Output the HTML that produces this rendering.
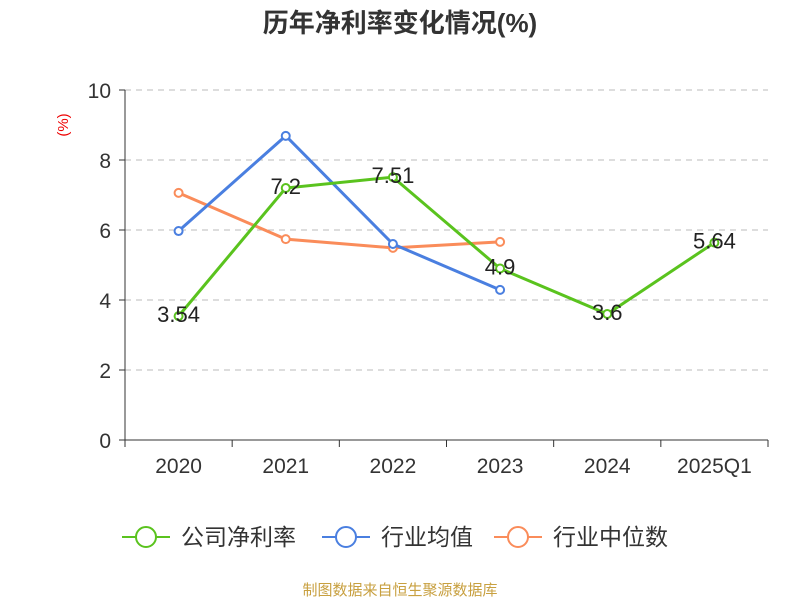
<!DOCTYPE html>
<html><head><meta charset="utf-8"><style>
body{margin:0;background:#fff;font-family:"Liberation Sans","Noto Sans CJK SC",sans-serif;}
</style></head><body>
<svg width="800" height="600" xmlns="http://www.w3.org/2000/svg" font-family="Liberation Sans, Noto Sans CJK SC, sans-serif">
<text x="400" y="32" text-anchor="middle" font-size="26" font-weight="bold" fill="#333">历年净利率变化情况(%)</text>
<text transform="translate(68,125) rotate(-90)" text-anchor="middle" font-size="15" fill="#e00">(%)</text>
<g id="grid"></g><g id="axes"></g><g id="series"></g>
<g id="legend"></g>
<text x="400" y="595" text-anchor="middle" font-size="15" fill="#c8a040">制图数据来自恒生聚源数据库</text>
</svg>
<script>
const categories=["2020","2021","2022","2023","2024","2025Q1"];
const yTicks=[0,2,4,6,8,10];
const companyNet=[3.54,7.2,7.51,4.9,3.6,5.64];
const industryAvg=[5.97,8.69,5.6,4.29];
const industryMedian=[7.06,5.74,5.49,5.66];
const labels=["3.54","7.2","7.51","4.9","3.6","5.64"];
const NS="http://www.w3.org/2000/svg";
const x0=125,x1=768,y0=440,yTop=90;
const bw=(x1-x0)/categories.length;
const xs=i=>x0+bw*(i+0.5);
const ys=v=>y0-(v/10)*(y0-yTop);
function mk(tag,attrs,parent){const e=document.createElementNS(NS,tag);for(const k in attrs)e.setAttribute(k,attrs[k]);parent.appendChild(e);return e;}
const grid=document.getElementById('grid'),axes=document.getElementById('axes'),ser=document.getElementById('series'),leg=document.getElementById('legend');
yTicks.forEach(t=>{
 if(t>0){const l=mk('line',{x1:x0,x2:x1,y1:ys(t),y2:ys(t),stroke:'#bbb','stroke-dasharray':'6,5'},grid);
 
 }
 const tk=mk('line',{x1:x0-6,x2:x0,y1:ys(t),y2:ys(t),stroke:'#333'},axes);
 
 
 const tx=mk('text',{x:x0-14,y:ys(t)+8,'text-anchor':'end','font-size':21,fill:'#333'},axes);tx.textContent=t;
 
 
});
const ya=mk('line',{x1:x0,x2:x0,y1:yTop,y2:y0,stroke:'#333'},axes);


const xa=mk('line',{x1:x0,x2:x1,y1:y0,y2:y0,stroke:'#333'},axes);


for(let i=0;i<=categories.length;i++){const tk=mk('line',{x1:x0+bw*i,x2:x0+bw*i,y1:y0,y2:y0+7,stroke:'#333'},axes);
 
 }
categories.forEach((c,i)=>{const t=mk('text',{x:xs(i),y:y0+33,'text-anchor':'middle','font-size':21,fill:'#333'},axes);t.textContent=c;
 
 });
function series(vals,color,name){
 const g=mk('g',{},ser);
 
 
 mk('polyline',{points:vals.map((v,i)=>xs(i)+','+ys(v)).join(' '),fill:'none',stroke:color,'stroke-width':3},g);
 vals.forEach((v,i)=>{const c=mk('circle',{cx:xs(i),cy:ys(v),r:4,fill:'#fff',stroke:color,'stroke-width':2},g);
  
  });
}
series(industryMedian,'#fa8c5a','industry-median-line');
series(industryAvg,'#4a7fe0','industry-average-line');
series(companyNet,'#5ac31e','company-net-margin-line');
companyNet.forEach((v,i)=>{const t=mk('text',{x:xs(i),y:ys(v)+6,'text-anchor':'middle','font-size':22,fill:'#222'},ser);t.textContent=labels[i];
 
 });
const items=[["公司净利率",'#5ac31e',122],["行业均值",'#4a7fe0',322],["行业中位数",'#fa8c5a',494]];
items.forEach(([n,c,x])=>{const g=mk('g',{},leg);
 
 
 mk('line',{x1:x,x2:x+48,y1:537,y2:537,stroke:c,'stroke-width':2},g);
 mk('circle',{cx:x+24,cy:537,r:10,fill:'#fff',stroke:c,'stroke-width':2},g);
 const t=mk('text',{x:x+59,y:545,'font-size':23,fill:'#333'},g);t.textContent=n;});
</script>
</body></html>
